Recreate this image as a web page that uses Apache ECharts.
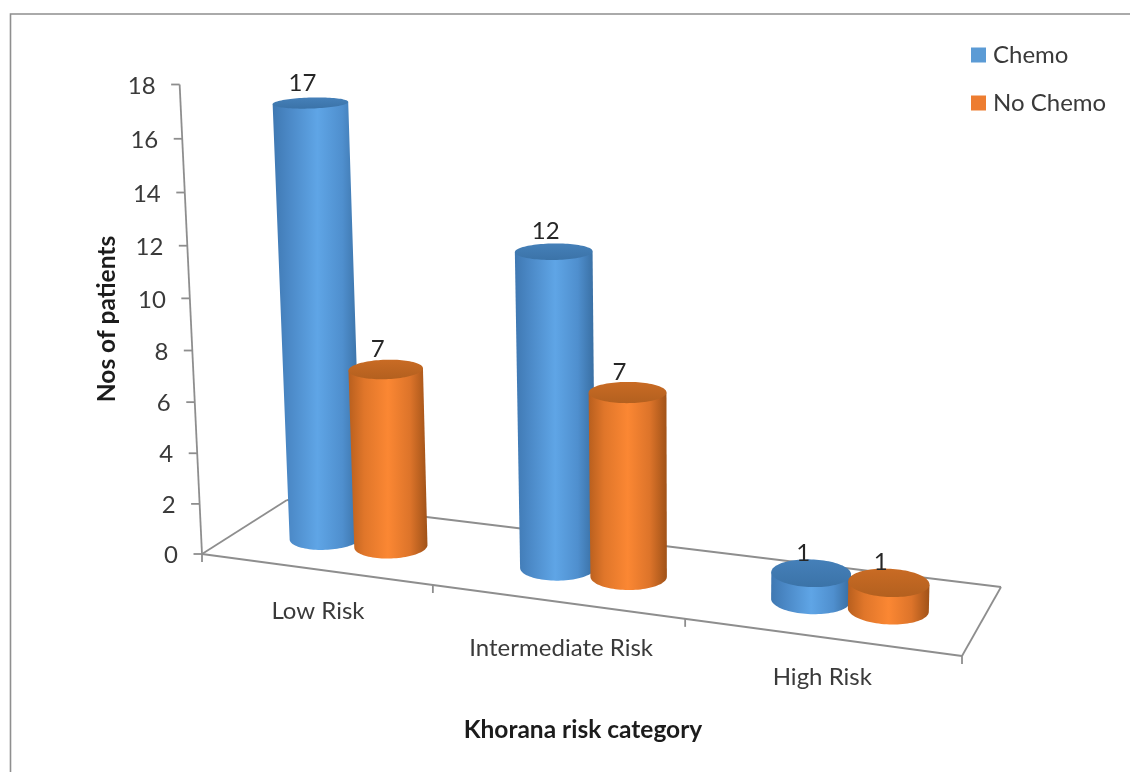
<!DOCTYPE html>
<html>
<head>
<meta charset="utf-8">
<style>html,body{margin:0;padding:0;background:#fff}#chart{width:1130px;height:772px}</style>
<script src="https://cdn.jsdelivr.net/npm/echarts@6/dist/echarts.min.js"></script>
</head>
<body>
<div id="chart"></div>
<script>
// Chart data
const categories = ['Low Risk', 'Intermediate Risk', 'High Risk'];
const chemoValues = [17, 12, 1];
const noChemoValues = [7, 7, 1];
const valueTicks = [0, 2, 4, 6, 8, 10, 12, 14, 16, 18];

// Hidden planar grid: the axes turn values into pixels, then the camera below tilts them
const GRID = { left: 100, top: 100, width: 900, height: 540 };

// Perspective camera: floor corners, top of the value axis, vertical vanishing point
const FLOOR_A = [202, 554], FLOOR_B = [962, 656], FLOOR_C = [1001, 587], FLOOR_D = [287, 500];
const AXIS_TOP_Y = 84.5, VANISH = [690, 10800];

const camera = (function () {
  const [x0, y0] = FLOOR_A, [x1, y1] = FLOOR_B, [x2, y2] = FLOOR_C, [x3, y3] = FLOOR_D;
  const dx1 = x1 - x2, dx2 = x3 - x2, sx = x0 - x1 + x2 - x3;
  const dy1 = y1 - y2, dy2 = y3 - y2, sy = y0 - y1 + y2 - y3;
  const det = dx1 * dy2 - dx2 * dy1;
  const g = (sx * dy2 - dx2 * sy) / det, h = (dx1 * sy - sx * dy1) / det;
  const a = x1 - x0 + g * x1, b = x3 - x0 + h * x3;
  const d = y1 - y0 + g * y1, e = y3 - y0 + h * y3;
  const k = (y0 - AXIS_TOP_Y) / (AXIS_TOP_Y - VANISH[1]) / 18;
  // u: 0..3 along the categories, w: 0..1 into the depth, v: value units upward
  return function (u, w, v) {
    const s = u / 3;
    const q = g * s + h * w + 1 + k * v;
    return [
      (a * s + b * w + x0 + k * v * VANISH[0]) / q,
      (d * s + e * w + y0 + k * v * VANISH[1]) / q
    ];
  };
})();

function toWorld(api, category, value) {
  const p = api.coord([category, value]);
  return {
    u: (p[0] - GRID.left) / GRID.width * 3,
    v: (GRID.top + GRID.height - p[1]) / GRID.height * 18
  };
}

const FONT = 'Lato, "Open Sans", sans-serif';
const TEXT_COLOR = '#3a3a3a', LINE_COLOR = '#8e8e8e';
const BAR_RADIUS_U = 0.145, BAR_RADIUS_W = 0.205, BAR_DEPTH = 0.48, STEPS = 96;
// Per-category nudge of the labels under the floor edge
const CATEGORY_LABEL_SHIFT = [[3, 42], [5, 47], [2, 40]];

function ring(u, v) {
  const pts = [];
  for (let i = 0; i < STEPS; i++) {
    const t = i / STEPS * Math.PI * 2;
    pts.push(camera(u + BAR_RADIUS_U * Math.cos(t), BAR_DEPTH + BAR_RADIUS_W * Math.sin(t), v));
  }
  return pts;
}

function extremes(pts) {
  let lo = 0, hi = 0;
  pts.forEach((p, i) => { if (p[0] < pts[lo][0]) lo = i; if (p[0] > pts[hi][0]) hi = i; });
  return [lo, hi];
}

function cylinder(palette, offsetU) {
  return function (params, api) {
    const cat = api.value(0), val = api.value(1);
    const base = toWorld(api, cat, 0), top = toWorld(api, cat, val);
    const u = base.u + offsetU;
    const topRing = ring(u, top.v), baseRing = ring(u, base.v);
    const [tl, tr] = extremes(topRing), [bl, br] = extremes(baseRing);

    // Walk the near half of the base from its right end to its left end
    const nearArc = [];
    const forward = baseRing[(br + 1) % STEPS][1] > baseRing[br][1];
    for (let i = br; ; i = (i + (forward ? 1 : STEPS - 1)) % STEPS) {
      nearArc.push(baseRing[i]);
      if (i === bl) break;
    }
    const body = [topRing[tl], topRing[tr]].concat(nearArc);
    const side = new echarts.graphic.LinearGradient(0, 0, 1, 0, [
      { offset: 0, color: palette.edgeL },
      { offset: 0.2, color: palette.midL },
      { offset: 0.5, color: palette.light },
      { offset: 0.78, color: palette.midR },
      { offset: 1, color: palette.edgeR }
    ]);
    const cap = new echarts.graphic.LinearGradient(0, 0, 0, 1, [
      { offset: 0, color: palette.capBack },
      { offset: 1, color: palette.capFront }
    ]);
    const centre = camera(u, BAR_DEPTH, top.v);
    return {
      type: 'group',
      children: [
        { type: 'polygon', shape: { points: body }, style: { fill: side } },
        { type: 'polygon', shape: { points: topRing }, style: { fill: cap } },
        {
          type: 'text', z2: 50,
          style: {
            x: centre[0] - 8, y: centre[1] - 20, text: String(val),
            font: '24px ' + FONT, fill: '#262626', align: 'center', verticalAlign: 'middle'
          }
        }
      ]
    };
  };
}

// Floor outline, value axis and their tick marks and labels
function renderFrame(params, api) {
  const line = (a, b) => ({
    type: 'line',
    shape: { x1: a[0], y1: a[1], x2: b[0], y2: b[1] },
    style: { stroke: LINE_COLOR, lineWidth: 1.8 }
  });
  const children = [
    line(camera(0, 0, 0), camera(3, 0, 0)),
    line(camera(3, 0, 0), camera(3, 1, 0)),
    line(camera(3, 1, 0), camera(0, 1, 0)),
    line(camera(0, 1, 0), camera(0, 0, 0))
  ];
  valueTicks.forEach((tick) => {
    const p = camera(0, 0, toWorld(api, 0, tick).v);
    children.push(line(p, [p[0] - 8.5, p[1]]));
    children.push({
      type: 'text',
      style: {
        x: p[0] - 24, y: p[1] + 1.5, text: String(tick),
        font: '24px ' + FONT, fill: TEXT_COLOR, align: 'right', verticalAlign: 'middle'
      }
    });
  });
  children.push(line(camera(0, 0, toWorld(api, 0, 18).v), camera(0, 0, 0)));
  categories.forEach((name, i) => {
    const tick = camera(i, 0, 0);
    children.push(line(tick, [tick[0], tick[1] + 8]));
    const mid = camera(toWorld(api, i, 0).u, 0, 0);
    children.push({
      type: 'text',
      style: {
        x: mid[0] + CATEGORY_LABEL_SHIFT[i][0], y: mid[1] + CATEGORY_LABEL_SHIFT[i][1], text: name,
        font: '24px ' + FONT, fill: TEXT_COLOR, align: 'center', verticalAlign: 'middle'
      }
    });
  });
  const end = camera(3, 0, 0);
  children.push(line(end, [end[0], end[1] + 8]));
  return { type: 'group', children };
}

const BLUE = {
  edgeL: '#3f78b2', midL: '#4c8ac8', light: '#5fa5e6', midR: '#4f8fce', edgeR: '#376c9f',
  capBack: '#4580b9', capFront: '#3b73a8'
};
const ORANGE = {
  edgeL: '#b85f1e', midL: '#e0762a', light: '#fb8733', midR: '#dd742a', edgeR: '#a05218',
  capBack: '#c96b24', capFront: '#b3601f'
};

const chart = echarts.init(document.getElementById('chart'));
chart.setOption({
  animation: false,
  backgroundColor: '#ffffff',
  grid: GRID,
  xAxis: { type: 'category', data: categories, show: false },
  yAxis: { type: 'value', min: 0, max: 18, interval: 2, show: false },
  legend: {
    data: ['Chemo', 'No Chemo'],
    orient: 'vertical',
    left: 966, top: 38,
    icon: 'rect', itemWidth: 15, itemHeight: 15, itemGap: 24,
    textStyle: { fontFamily: FONT, fontSize: 24, color: TEXT_COLOR, padding: [0, 0, 0, 2] }
  },
  graphic: [
    {
      type: 'polyline', silent: true,
      shape: { points: [[10.5, 772], [10.5, 14], [1130, 14]] },
      style: { stroke: '#8f8f8f', lineWidth: 1.6, fill: 'none' }
    },
    {
      type: 'text', x: 583, y: 730, silent: true,
      style: {
        text: 'Khorana risk category', font: 'bold 24.5px ' + FONT, fill: '#1c1c1c',
        align: 'center', verticalAlign: 'middle'
      }
    },
    {
      type: 'text', x: 107, y: 319, rotation: Math.PI / 2, silent: true,
      style: {
        text: 'Nos of patients', font: 'bold 24.5px ' + FONT, fill: '#1c1c1c',
        align: 'center', verticalAlign: 'middle'
      }
    }
  ],
  series: [
    { type: 'custom', name: 'axisFrame', data: [[0, 0]], renderItem: renderFrame, silent: true, z: 1, clip: false },
    {
      type: 'custom', name: 'Chemo', itemStyle: { color: '#5b9bd5' }, z: 2, clip: false,
      data: chemoValues.map((v, i) => [i, v]), renderItem: cylinder(BLUE, -0.127)
    },
    {
      type: 'custom', name: 'No Chemo', itemStyle: { color: '#ed7d31' }, z: 3, clip: false,
      data: noChemoValues.map((v, i) => [i, v]), renderItem: cylinder(ORANGE, 0.162)
    }
  ]
});
</script>
</body>
</html>
